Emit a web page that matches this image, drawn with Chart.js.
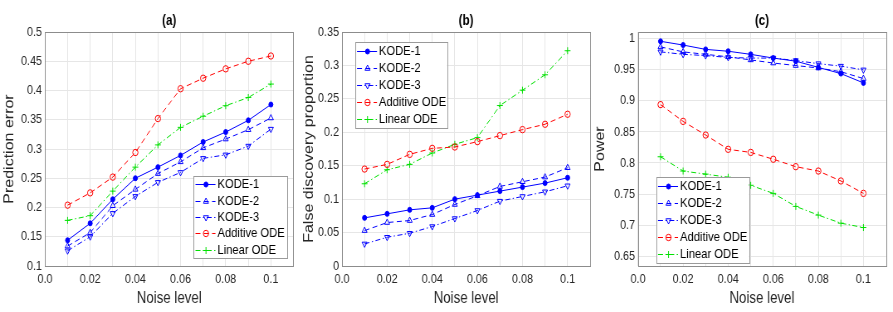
<!DOCTYPE html>
<html>
<head>
  <script src="https://cdn.jsdelivr.net/npm/chart.js"></script>
  <style>
    body { margin: 0; background: #fff; overflow: hidden; }
    canvas { position: absolute; top: 0; transform-origin: 0 0; }
  </style>
</head>
<body>

<canvas id="chartA"></canvas>
<canvas id="chartB"></canvas>
<canvas id="chartC"></canvas>

<script>
// noise levels (x values)
const noiseLevel = [0.01, 0.02, 0.03, 0.04, 0.05, 0.06, 0.07, 0.08, 0.09, 0.1];
const xTickLabels = ["0.0", "0.02", "0.04", "0.06", "0.08", "0.1"];
const seriesNames = ["KODE-1", "KODE-2", "KODE-3", "Additive ODE", "Linear ODE"];

// (a) prediction error
const predKode1 = [0.144, 0.173, 0.214, 0.250, 0.269, 0.289, 0.312, 0.329, 0.349, 0.376];
const predKode2 = [0.134, 0.157, 0.203, 0.231, 0.258, 0.278, 0.302, 0.317, 0.333, 0.353];
const predKode3 = [0.126, 0.150, 0.190, 0.219, 0.243, 0.260, 0.284, 0.290, 0.305, 0.334];
const predAdditive = [0.204, 0.225, 0.252, 0.294, 0.352, 0.403, 0.421, 0.437, 0.450, 0.459];
const predLinear = [0.178, 0.186, 0.228, 0.269, 0.307, 0.337, 0.356, 0.374, 0.388, 0.411];

// (b) false discovery proportion
const fdpKode1 = [0.072, 0.078, 0.084, 0.087, 0.100, 0.106, 0.112, 0.118, 0.124, 0.132];
const fdpKode2 = [0.053, 0.065, 0.068, 0.077, 0.092, 0.105, 0.119, 0.126, 0.133, 0.147];
const fdpKode3 = [0.033, 0.043, 0.049, 0.059, 0.071, 0.083, 0.097, 0.104, 0.111, 0.120];
const fdpAdditive = [0.145, 0.152, 0.167, 0.176, 0.178, 0.186, 0.195, 0.204, 0.212, 0.227];
const fdpLinear = [0.123, 0.144, 0.152, 0.169, 0.182, 0.192, 0.240, 0.263, 0.286, 0.322];

// (c) power
const powKode1 = [0.996, 0.990, 0.983, 0.980, 0.975, 0.969, 0.964, 0.954, 0.944, 0.929];
const powKode2 = [0.987, 0.979, 0.975, 0.971, 0.966, 0.961, 0.957, 0.953, 0.947, 0.936];
const powKode3 = [0.979, 0.975, 0.973, 0.970, 0.969, 0.969, 0.965, 0.960, 0.956, 0.950];
const powAdditive = [0.894, 0.867, 0.845, 0.822, 0.817, 0.806, 0.794, 0.787, 0.771, 0.751];
const powLinear = [0.810, 0.787, 0.782, 0.777, 0.764, 0.751, 0.730, 0.716, 0.703, 0.696];

const yTicksA = [0.1, 0.15, 0.2, 0.25, 0.3, 0.35, 0.4, 0.45, 0.5];
const yTicksB = [0, 0.05, 0.1, 0.15, 0.2, 0.25, 0.3, 0.35];
const yTicksC = [0.65, 0.7, 0.75, 0.8, 0.85, 0.9, 0.95, 1];

// the original figure is squeezed sideways, so each canvas is drawn wider and scaled down in x
const SX = 0.83;
const ix = v => v / SX;

Chart.defaults.font.family = "'Liberation Sans', Arial, sans-serif";
Chart.defaults.color = "#262626";

// line / marker look for each series
const styles = [
  { color: "#0000ff", fill: "#0000ff", dash: [], point: "circle", radius: 2.5, rot: 0 },
  { color: "#0000ff", fill: "rgba(0,0,0,0)", dash: [6, 4], point: "triangle", radius: 3.5, rot: 0 },
  { color: "#0000ff", fill: "rgba(0,0,0,0)", dash: [6, 3, 1.5, 3], point: "triangle", radius: 3.5, rot: 180 },
  { color: "#ff0000", fill: "rgba(0,0,0,0)", dash: [6, 4], point: "circle", radius: 3.2, rot: 0 },
  { color: "#00e000", fill: "rgba(0,0,0,0)", dash: [6, 3, 1.5, 3], point: "cross", radius: 3.5, rot: 0 }
];

const panelPlugin = {
  id: "panelDeco",
  afterDraw(chart, args, opts) {
    const ctx = chart.ctx;
    const a = chart.chartArea;
    ctx.save();
    // box round the axes
    ctx.strokeStyle = "#8c8c8c";
    ctx.lineWidth = 1;
    ctx.setLineDash([]);
    ctx.strokeRect(Math.round(a.left) + 0.5, Math.round(a.top) + 0.5,
      Math.round(a.right - a.left), Math.round(a.bottom - a.top));
    // panel title
    ctx.fillStyle = "#000";
    ctx.font = "bold 14px 'Liberation Sans'";
    ctx.textAlign = "center";
    ctx.textBaseline = "middle";
    ctx.fillText(opts.title, (a.left + a.right) / 2, 21);
    // legend box
    const L = opts.legend;
    const w = ix(L.width);
    const bx = L.left !== undefined ? a.left + ix(L.left) : a.right - ix(L.right) - w;
    const by = L.top !== undefined ? a.top + L.top : a.bottom - L.bottom - L.height;
    ctx.fillStyle = "#fff";
    ctx.fillRect(bx, by, w, L.height);
    ctx.strokeStyle = "#9a9a9a";
    ctx.strokeRect(Math.round(bx) + 0.5, Math.round(by) + 0.5, Math.round(w), L.height);
    const rowH = L.height / seriesNames.length;
    seriesNames.forEach((name, i) => {
      const st = styles[i];
      const y = Math.round(by + rowH * (i + 0.5)) + 0.5;
      ctx.strokeStyle = st.color;
      ctx.lineWidth = 1;
      ctx.setLineDash(st.dash);
      ctx.beginPath();
      ctx.moveTo(bx + ix(2), y);
      ctx.lineTo(bx + ix(22), y);
      ctx.stroke();
      ctx.setLineDash([]);
      ctx.fillStyle = st.fill;
      Chart.helpers.drawPoint(ctx, { pointStyle: st.point, radius: st.radius, rotation: st.rot, borderWidth: 1 }, bx + ix(12.5), y);
      ctx.fillStyle = "#000";
      ctx.font = "13.5px 'Liberation Sans'";
      ctx.textAlign = "left";
      ctx.textBaseline = "middle";
      ctx.fillText(name, bx + ix(24), y);
    });
    ctx.restore();
  }
};

function makePanel(id, p) {
  const canvas = document.getElementById(id);
  canvas.width = Math.round(ix(p.width));
  canvas.height = 312;
  canvas.style.left = p.left + "px";
  canvas.style.transform = "scaleX(" + SX + ")";

  const datasets = p.series.map((vals, i) => {
    const st = styles[i];
    return {
      label: seriesNames[i],
      data: noiseLevel.map((x, j) => ({ x: x, y: vals[j] })),
      borderColor: st.color,
      backgroundColor: st.fill,
      borderWidth: 1,
      borderDash: st.dash,
      pointStyle: st.point,
      pointRadius: st.radius,
      pointRotation: st.rot,
      pointBorderWidth: 1,
      pointBorderColor: st.color,
      pointBackgroundColor: st.fill,
      tension: 0,
      fill: false
    };
  });
  return new Chart(canvas, {
    type: "line",
    data: { datasets: datasets },
    options: {
      responsive: false,
      animation: false,
      devicePixelRatio: 1,
      layout: { padding: { left: 0, right: ix(p.padRight), top: 32, bottom: 0 } },
      plugins: {
        legend: { display: false },
        tooltip: { enabled: false },
        panelDeco: { title: p.title, legend: p.legend }
      },
      scales: {
        x: {
          type: "linear",
          min: 0,
          max: 0.11,
          afterBuildTicks: s => { s.ticks = [0].concat(noiseLevel).map(v => ({ value: v })); },
          afterFit: s => { s.height = 46; },
          grid: { color: "#e6e6e6", drawTicks: false },
          border: { display: false },
          ticks: {
            autoSkip: false,
            maxRotation: 0,
            padding: 6,
            font: { size: 13 },
            callback: v => {
              const k = Math.round(v * 100);
              return k % 2 === 0 ? xTickLabels[k / 2] : "";
            }
          },
          title: { display: true, text: "Noise level", font: { size: 16 }, padding: { top: 0, bottom: 4 } }
        },
        y: {
          min: p.yMin,
          max: p.yMax,
          afterBuildTicks: s => { s.ticks = p.yTicks.map(v => ({ value: v })); },
          afterFit: s => { s.width = ix(p.yWidth); },
          grid: { color: "#e6e6e6", drawTicks: false },
          border: { display: false },
          ticks: {
            autoSkip: false,
            padding: ix(3),
            font: { size: 13 },
            callback: v => String(+v.toFixed(2))
          },
          title: { display: true, text: p.yTitle, font: { size: 16 }, padding: { top: ix(p.yTitleX) - 9.6, bottom: 0 } }
        }
      }
    },
    plugins: [panelPlugin]
  });
}

makePanel("chartA", {
  left: 0, width: 298,
  title: "(a)",
  series: [predKode1, predKode2, predKode3, predAdditive, predLinear],
  yMin: 0.1, yMax: 0.5, yTicks: yTicksA,
  yTitle: "Prediction error", yWidth: 45, yTitleX: 10, padRight: 4.5,
  legend: { right: 6, bottom: 8, width: 94, height: 82 }
});

makePanel("chartB", {
  left: 298, width: 296,
  title: "(b)",
  series: [fdpKode1, fdpKode2, fdpKode3, fdpAdditive, fdpLinear],
  yMin: 0, yMax: 0.35, yTicks: yTicksB,
  yTitle: "False discovery proportion", yWidth: 44, yTitleX: 11, padRight: 2,
  legend: { left: 13, top: 10, width: 92, height: 86 }
});

makePanel("chartC", {
  left: 590, width: 303,
  title: "(c)",
  series: [powKode1, powKode2, powKode3, powAdditive, powLinear],
  yMin: 0.634, yMax: 1.011, yTicks: yTicksC,
  yTitle: "Power", yWidth: 48, yTitleX: 10.7, padRight: 7,
  legend: { left: 18, bottom: 3, width: 93, height: 86 }
});
</script>

</body>
</html>
